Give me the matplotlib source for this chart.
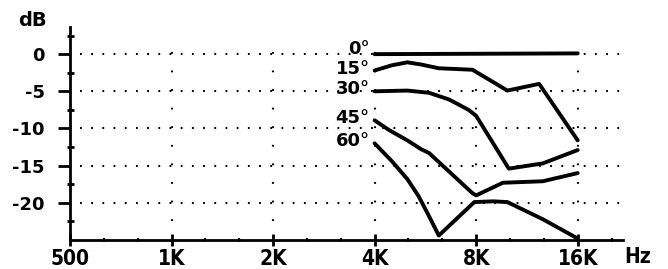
import matplotlib
matplotlib.use("Agg")
import matplotlib.pyplot as plt
from matplotlib.ticker import FixedLocator, NullFormatter
from matplotlib import font_manager as fm

plt.rcParams['lines.scale_dashes'] = False

# ---- data ----
tick_freqs = [500, 1000, 2000, 4000, 8000, 16000]
tick_labels = ["500", "1K", "2K", "4K", "8K", "16K"]
y_ticks = [0, -5, -10, -15, -20]
y_labels = ["0", "-5", "-10", "-15", "-20"]

f_0 = [4000, 16000]
db_0 = [0.0, 0.1]

f_15 = [4000, 4500, 5000, 5500, 6200, 7800, 9900, 12300, 16000]
db_15 = [-2.2, -1.5, -1.1, -1.4, -1.9, -2.1, -4.9, -4.0, -11.6]

f_30 = [4000, 5000, 5800, 6650, 7600, 8000, 10000, 12600, 16000]
db_30 = [-5.0, -4.9, -5.2, -6.1, -7.5, -8.3, -15.4, -14.7, -12.9]

f_45 = [4000, 4410, 5000, 5500, 5800, 7800, 8000, 9600, 12600, 16000]
db_45 = [-8.9, -10.2, -11.6, -12.8, -13.3, -18.7, -19.0, -17.3, -17.1, -16.0]

f_60 = [4000, 4500, 5000, 5400, 5800, 6200, 7900, 9000, 9900, 12600, 16000]
db_60 = [-12.0, -14.4, -16.8, -19.1, -21.8, -24.4, -19.9, -19.8, -19.9, -22.2, -24.8]

curve_labels = ["0°", "15°", "30°", "45°", "60°"]
curves = [(f_0, db_0), (f_15, db_15), (f_30, db_30), (f_45, db_45), (f_60, db_60)]

# ---- figure ----
W, H, DPI = 668, 269, 100
fig = plt.figure(figsize=(W / DPI, H / DPI), dpi=DPI)
ax = fig.add_axes([70 / W, 29 / H, (623 - 70) / W, (240 - 27) / H])

x_min, x_max = 500, 21800
y_min, y_max = -25, 3.65
ax.set_xscale('log')
ax.set_xlim(x_min, x_max)
ax.set_ylim(y_min, y_max)

for s in ['top', 'right']:
    ax.spines[s].set_visible(False)
for s in ['left', 'bottom']:
    ax.spines[s].set_linewidth(2.0)
    ax.spines[s].set_color('black')

lw_line = 2.8
for (f, d) in curves:
    ax.plot(f, d, color='black', lw=lw_line, solid_capstyle='round',
            solid_joinstyle='round', zorder=5)

# curve labels
label_font = dict(family=['DejaVu Sans'], weight='bold', size=13)
label_offsets = [0.7, 0.25, 0.25, 0.35, 0.3]
for (f, d), lab, off in zip(curves, curve_labels, label_offsets):
    ax.text(3870, d[0] + off, lab, ha='right', va='center', **label_font)

# condensed bold font for x labels if available
xfont = fm.FontProperties(family='DejaVu Sans', weight='bold', stretch='condensed', size=15)

# ticks
ax.xaxis.set_major_locator(FixedLocator(tick_freqs))
ax.set_xticklabels(tick_labels)
minor_x = [500 * 2 ** (k / 3) for k in range(1, 17) if k % 3 != 0]
ax.xaxis.set_minor_locator(FixedLocator(minor_x))
ax.xaxis.set_minor_formatter(NullFormatter())

ax.set_yticks(y_ticks)
ax.set_yticklabels(y_labels)
ax.yaxis.set_minor_locator(FixedLocator([2.5, -2.5, -7.5, -12.5, -17.5, -22.5]))

px = 72 / DPI
ax.tick_params(axis='y', which='major', direction='out', length=12 * px, width=2.0, pad=9.5)
ax.tick_params(axis='y', which='minor', direction='inout', length=7 * px, width=2.0)
ax.tick_params(axis='x', which='major', direction='inout', length=12 * px, width=2.0, pad=2)
ax.tick_params(axis='x', which='minor', direction='inout', length=5 * px, width=1.6)

for t in ax.get_yticklabels():
    t.set_fontfamily(['DejaVu Sans'])
    t.set_fontweight('bold')
    t.set_fontsize(13)
for t in ax.get_xticklabels():
    t.set_fontproperties(xfont)

# dotted grid: horizontal
x_grid_start = 500 * 2 ** (10 / 101.5)
for yv in y_ticks:
    ax.plot([x_grid_start, x_max], [yv, yv], color='black', lw=1.5,
            linestyle=(0, (1.3, 6.76)), dash_capstyle='butt', zorder=1)

# dotted grid: vertical (dots every 2.5 dB)
fig.canvas.draw()
p0 = ax.transData.transform((1000, 0))
p1 = ax.transData.transform((1000, -2.5))
step_pt = abs(p0[1] - p1[1]) * 72 / DPI
for fv in tick_freqs[1:]:
    ax.plot([fv, fv], [-22.5, 2.5], color='black', lw=1.5,
            linestyle=(0, (1.3, step_pt - 1.3)), dash_capstyle='butt', zorder=1)

# axis unit labels
fig.text(32 / W, 1 - 21 / H, "dB", ha='center', va='center',
         family=['DejaVu Sans'], weight='bold', size=14)
fig.text(638 / W, 1 - 257 / H, "Hz", ha='center', va='center',
         fontproperties=xfont)

fig.savefig("out.png", dpi=DPI, facecolor='white')
